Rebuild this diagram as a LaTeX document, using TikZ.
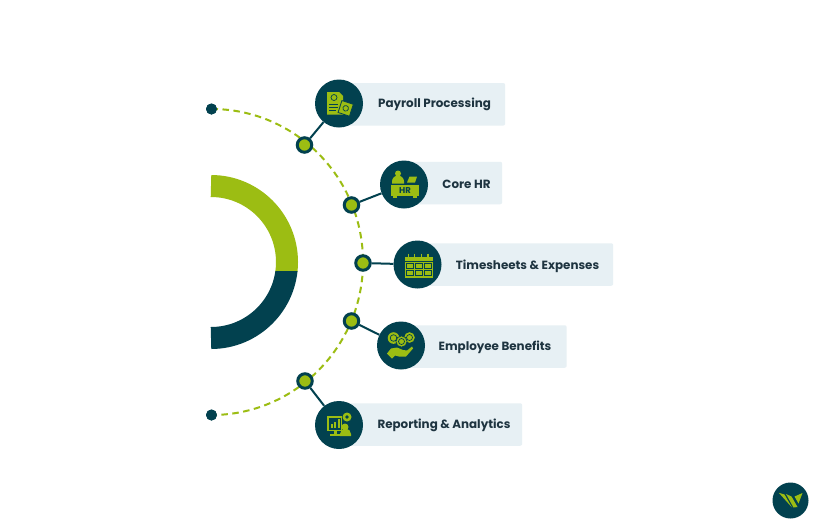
\documentclass[tikz,border=0pt]{standalone}
\usepackage{fontspec}
\setmainfont{Poppins}
\definecolor{teal}{HTML}{02414F}
\definecolor{lime}{HTML}{9CBD13}
\definecolor{pale}{HTML}{E7F0F4}
\definecolor{ink}{HTML}{1E3440}
\tikzset{
  card/.style={fill=pale,rounded corners=2pt,anchor=west,inner sep=0pt,minimum height=42.5pt},
  hub/.style={circle,fill=teal,minimum size=48pt,inner sep=0pt},
  junction/.style={circle,fill=lime,draw=teal,line width=3pt,minimum size=14.5pt,inner sep=0pt},
  endpoint/.style={circle,fill=teal,minimum size=11pt,inner sep=0pt},
  label/.style={font=\bfseries\fontsize{11.9pt}{13pt}\selectfont,text=ink,inner sep=0pt},
  link/.style={draw=teal,line width=2pt},
  ring/.style={line width=22pt},
  iconline/.style={draw=teal,line width=0.7pt},
  greenline/.style={draw=lime,line width=1.1pt}
}
\begin{document}
\begin{tikzpicture}[x=1pt,y=-1pt]
\useasboundingbox (0,0) rectangle (818,528);
\fill[white] (0,0) rectangle (818,528);
% thick arc
\begin{scope}
\clip (205,170) rectangle (305,271);
\draw[ring,lime] (211,186) arc[start angle=90,end angle=-90,radius=76pt];
\end{scope}
\begin{scope}
\clip (205,271) rectangle (305,355);
\draw[ring,teal] (211,186) arc[start angle=90,end angle=-90,radius=76pt];
\end{scope}
% end dots
\node[endpoint] (top) at (211.5,109) {};
\node[endpoint] (bot) at (211.5,415) {};
\draw[lime,line width=2pt,dash pattern=on 6.5pt off 4.5pt] (top.center) arc[start angle=90,end angle=-90,x radius=151.5pt,y radius=153pt];
\node[endpoint] at (top) {};
\node[endpoint] at (bot) {};
% cards
\node[card,minimum width=166pt] (c1) at (339,104.3) {};
\node[card,minimum width=98pt] (c2) at (404,183) {};
\node[card,minimum width=196pt] (c3) at (417,264.5) {};
\node[card,minimum width=165.5pt] (c4) at (401,346.5) {};
\node[card,minimum width=183pt] (c5) at (339,424.5) {};
% labels
\node[label] (t1) at (434.5,104) {Payroll Processing};
\node[label] (t2) at (466.5,184.5) {Core HR};
\node[label] (t3) at (527.5,266.5) {Timesheets \& Expenses};
\node[label] (t4) at (495,347) {Employee Benefits};
\node[label] (t5) at (444,425.5) {Reporting \& Analytics};
% hubs and junctions
\node[hub] (h1) at (339,103.5) {};
\node[hub] (h2) at (404,184.5) {};
\node[hub] (h3) at (417.5,264.5) {};
\node[hub] (h4) at (401,345.5) {};
\node[hub] (h5) at (339,425) {};
\node[junction] (j1) at (304.5,145) {};
\node[junction] (j2) at (351.5,205) {};
\node[junction] (j3) at (363,263) {};
\node[junction] (j4) at (351.5,321) {};
\node[junction] (j5) at (305,381) {};
\draw[link] (j1) -- (h1);
\draw[link] (j2) -- (h2);
\draw[link] (j3) -- (h3);
\draw[link] (j4) -- (h4);
\draw[link] (j5) -- (h5);
% icon 1 payroll
\begin{scope}[shift={(h1.center)}]
\fill[lime] (-12,-11.5) -- (0,-11.5) -- (4,-7.5) -- (4,11) -- (-12,11) -- cycle;
\draw[iconline] (-5,-6) circle (3pt);
\draw[iconline] (-10,0.5) -- (-1,0.5) (-10,3.5) -- (-1,3.5) (-10,6.5) -- (-3,6.5);
\begin{scope}[rotate around={-18:(6,7)}]
\draw[fill=lime,draw=teal,line width=0.8pt] (0,-1.5) rectangle (12,11);
\draw[iconline] (6,4.7) circle (2.8pt);
\end{scope}
\end{scope}
% icon 2 HR
\begin{scope}[shift={(h2.center)}]
\fill[lime] (-6,-11) circle (3pt);
\fill[lime] (-12,-1) -- (-12,-3) arc[start angle=180,end angle=0,radius=6pt] -- (0,-1) -- cycle;
\fill[lime] (3,-2) -- (5.5,-8) -- (13,-8) -- (11,-2) -- cycle;
\fill[lime] (-13,0) rectangle (15,11);
\fill[lime] (-11,11) rectangle (-7,13.5);
\fill[lime] (9,11) rectangle (13,13.5);
\node[font=\bfseries\fontsize{8.5pt}{8.5pt}\selectfont,text=teal,inner sep=0pt] (hrtext) at (1,5.8) {HR};
\end{scope}
% icon 3 calendar
\begin{scope}[shift={(h3.center)}]
\fill[lime] (-13,-8) rectangle (15,13);
\draw[iconline] (-13,-3.5) -- (15,-3.5);
\draw[greenline] (-9,-11) -- (-9,-6) (-3,-11) -- (-3,-6) (4,-11) -- (4,-6) (10.5,-11) -- (10.5,-6);
\foreach \x in {-11,-2,7}{
  \foreach \y in {-1.5,5.5}{
    \draw[iconline] (\x,\y) rectangle ++(7,5);
  }
}
\end{scope}
% icon 4 benefits
\begin{scope}[shift={(h4.center)}]
\fill[lime] (-7.5,-7.5) circle (5.8pt);
\fill[lime] (8.5,-8) circle (5.3pt);
\draw[fill=lime,draw=teal,line width=0.7pt] (0.5,-4) circle (5.6pt);
\draw[iconline] (-7.5,-7.5) circle (3.3pt);
\draw[iconline] (8.5,-8) circle (3pt);
\draw[iconline] (0.5,-4) circle (3pt);
\fill[lime] (-14,8) -- (-10,3) -- (-4,2) -- (2,4.5) -- (6,5) -- (11,1) -- (12,3) -- (5,11) -- (-2,11) -- (-6,10) -- (-9,13) -- cycle;
\end{scope}
% icon 5 reporting
\begin{scope}[shift={(h5.center)}]
\fill[lime] (-12,-9) rectangle (3,6);
\fill[teal] (-10.5,-7.5) rectangle (1.5,4.5);
\fill[lime] (-8.5,3) rectangle (-6.5,-1);
\fill[lime] (-5,3) rectangle (-3,-3);
\fill[lime] (-1.5,3) rectangle (0.5,-6);
\fill[lime] (-9,9) rectangle (2,11);
\fill[lime] (-5,6) rectangle (-2,9);
\fill[lime] (8,-8) circle (4.5pt);
\fill[teal] (8,-8) circle (1.8pt);
\fill[lime] (6,2) circle (3.5pt);
\fill[lime] (1,11) -- (1,9) arc[start angle=180,end angle=0,radius=5.5pt] -- (12,11) -- cycle;
\end{scope}
% logo
\node[circle,fill=teal,minimum size=36pt,inner sep=0pt] (logo) at (790.5,500.5) {};
\begin{scope}[shift={(logo.center)}]
\fill[lime] (-11.7,-7.7) -- (-6,-6) -- (1.5,7) -- cycle;
\fill[lime] (-4.5,-6.5) -- (1,-4) -- (7,6.5) -- (3,7) -- cycle;
\fill[lime] (4,-4) -- (12,-7.5) -- (8,3) -- cycle;
\end{scope}
\end{tikzpicture}
\end{document}
